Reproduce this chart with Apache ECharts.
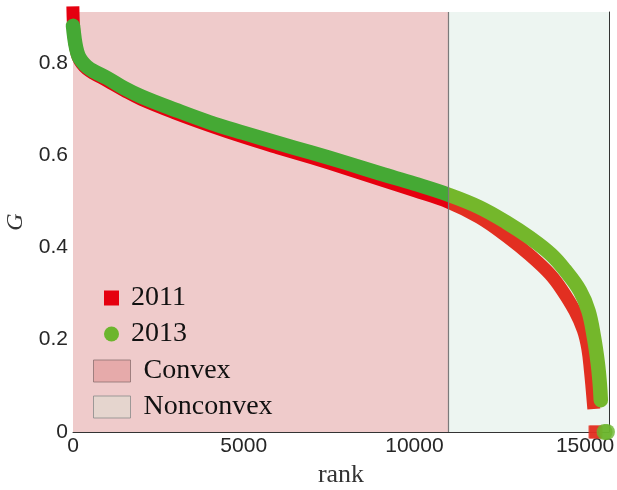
<!DOCTYPE html>
<html><head><meta charset="utf-8">
<script src="https://cdn.jsdelivr.net/npm/echarts@6/dist/echarts.min.js"></script>
<style>html,body{margin:0;padding:0;background:#fff}#c{width:617px;height:490px}</style>
</head><body><div id="c"></div>
<script>
// ---- data ----
const legendNames = ['2011', '2013', 'Convex', 'Nonconvex'];
const regionBreak = 11000;
const xMax = 15700;
const yMax = 0.91;

const rank2011 = [0, 30, 90, 160, 260, 400, 600, 1000, 1500, 2000, 3000, 4000, 5000, 6000, 7000, 8000, 9000, 10000, 11000, 11900, 12700, 13400, 13970, 14320, 14700, 14950, 15080, 15160, 15210, 15240];
const g2011 = [0.908, 0.860, 0.829, 0.811, 0.798, 0.787, 0.777, 0.761, 0.740, 0.721, 0.691, 0.664, 0.639, 0.616, 0.594, 0.571, 0.547, 0.523, 0.498, 0.465, 0.424, 0.382, 0.342, 0.308, 0.262, 0.220, 0.180, 0.130, 0.090, 0.064];

const rank2013 = [0, 40, 90, 160, 260, 400, 600, 1000, 1500, 2000, 3000, 4000, 5000, 6000, 7000, 8000, 9000, 10000, 11000, 11900, 12700, 13400, 14000, 14400, 14850, 15100, 15260, 15370, 15430, 15460];
const g2013 = [0.880, 0.855, 0.833, 0.815, 0.803, 0.792, 0.782, 0.767, 0.745, 0.727, 0.698, 0.671, 0.648, 0.626, 0.605, 0.583, 0.560, 0.538, 0.514, 0.487, 0.454, 0.420, 0.385, 0.352, 0.306, 0.262, 0.205, 0.150, 0.105, 0.069];

const zeroRank2011 = [15290, 15320];
const zeroG2011 = [0, 0];
const zeroRank2013 = [15570, 15640];
const zeroG2013 = [0, 0];

const zip = (a, b) => a.map((v, i) => [v, b[i]]);

const serif = 'Liberation Serif';
const sans = 'Liberation Sans';
const W = 617;

const red1 = '#e5000f', red2 = '#e22f21';
const green1 = '#45a934', green2 = '#74b72b';

const chart = echarts.init(document.getElementById('c'), null, {renderer: 'canvas'});

const axisCommon = {
  type: 'value',
  axisLine: {show: true, onZero: false, lineStyle: {color: '#333', width: 1}},
  axisTick: {show: true, inside: true, length: 6, lineStyle: {color: '#333'}},
  splitLine: {show: false}
};

chart.setOption({
  animation: false,
  backgroundColor: '#fff',
  grid: {left: 73, right: 8, top: 12, bottom: 58, containLabel: false, outerBoundsMode: 'none'},
  xAxis: [
    Object.assign({}, axisCommon, {
      min: 0, max: xMax, interval: 5000,
      name: 'rank', nameLocation: 'middle', nameGap: 26,
      nameTextStyle: {fontFamily: serif, fontSize: 26, color: '#333'},
      axisLabel: {fontFamily: sans, fontSize: 21, color: '#262626', margin: 4, showMaxLabel: false,
        formatter: v => String(v)}
    }),
    Object.assign({}, axisCommon, {
      position: 'top', min: 0, max: xMax, interval: 5000,
      axisLabel: {show: false}
    })
  ],
  yAxis: [
    Object.assign({}, axisCommon, {
      min: 0, max: yMax, interval: 0.2,
      name: 'G', nameLocation: 'middle', nameGap: 40, nameRotate: 90,
      nameTextStyle: {fontFamily: serif, fontStyle: 'italic', fontSize: 24, color: '#333'},
      axisLabel: {fontFamily: sans, fontSize: 21, color: '#262626', margin: 5, showMaxLabel: false,
        formatter: v => String(Math.round(v * 10) / 10)}
    }),
    Object.assign({}, axisCommon, {
      position: 'right', min: 0, max: yMax, interval: 0.2,
      axisLabel: {show: false}
    })
  ],
  legend: [
    {
      orient: 'vertical', left: 99, top: 278, itemGap: 6,
      itemWidth: 15, itemHeight: 15,
      textStyle: {fontFamily: serif, fontSize: 28, color: '#111', lineHeight: 30, padding: [0, 0, 0, 7]},
      data: [
        {name: legendNames[0], icon: 'path://M0,0H10V10H0Z', itemStyle: {color: red1}},
        {name: legendNames[1], icon: 'circle', itemStyle: {color: '#6cb52d'}}
      ],
      selectedMode: false
    },
    {
      orient: 'vertical', left: 88, top: 351, itemGap: 6,
      itemWidth: 37, itemHeight: 22,
      textStyle: {fontFamily: serif, fontSize: 28, color: '#111', lineHeight: 30, padding: [0, 0, 0, 8]},
      data: [
        {name: legendNames[2], icon: 'rect', itemStyle: {color: '#e4a1a1', borderColor: '#8c7070', borderWidth: 1}},
        {name: legendNames[3], icon: 'rect', itemStyle: {color: '#e2d7ce', borderColor: '#8a8a8a', borderWidth: 1}}
      ],
      selectedMode: false
    }
  ],
  series: [
    {
      name: legendNames[2], type: 'scatter', data: [], z: 0,
      itemStyle: {color: '#e4a1a1', borderColor: '#8c7070', borderWidth: 1},
      markArea: {silent: true, itemStyle: {color: '#efcbcb'},
        data: [[{xAxis: 0}, {xAxis: regionBreak}]]}
    },
    {
      name: legendNames[3], type: 'scatter', data: [], z: 0,
      itemStyle: {color: '#e2d7ce', borderColor: '#8a8a8a', borderWidth: 1},
      markArea: {silent: true, itemStyle: {color: '#edf5f1'},
        data: [[{xAxis: regionBreak}, {xAxis: xMax}]]}
    },
    {
      id: 'l2011', name: legendNames[0], type: 'line', data: zip(rank2011, g2011),
      showSymbol: false, smooth: 0.4, clip: false, z: 3,
      lineStyle: {width: 13, cap: 'square', join: 'round', color: red1}
    },
    {
      id: 'l2013', name: legendNames[1], type: 'line', data: zip(rank2013, g2013),
      showSymbol: false, smooth: 0.4, clip: false, z: 4,
      lineStyle: {width: 14.5, cap: 'round', join: 'round', color: green1}
    },
    {
      name: legendNames[0], type: 'scatter', data: zip(zeroRank2011, zeroG2011),
      symbol: 'rect', symbolSize: 13, clip: false, z: 5,
      itemStyle: {color: red2}
    },
    {
      name: legendNames[1], type: 'scatter', data: zip(zeroRank2013, zeroG2013),
      symbol: 'circle', symbolSize: 16, clip: false, z: 6,
      itemStyle: {color: '#6cb52d'}
    },
    {
      type: 'line', data: [], z: 7,
      markLine: {silent: true, symbol: 'none', label: {show: false},
        lineStyle: {color: '#7a7a7a', width: 1.2, type: 'solid'},
        data: [{xAxis: regionBreak}]}
    }
  ]
});

// colour the curves by region using the axis scale
const bx = chart.convertToPixel({xAxisIndex: 0}, regionBreak);
const off = Math.max(0, Math.min(1, bx / W));
const grad = (a, b) => new echarts.graphic.LinearGradient(0, 0, W, 0, [
  {offset: 0, color: a}, {offset: off, color: a}, {offset: off, color: b}, {offset: 1, color: b}
], true);
chart.setOption({
  series: [
    {id: 'l2011', lineStyle: {color: grad(red1, red2)}},
    {id: 'l2013', lineStyle: {color: grad(green1, green2)}}
  ]
});
</script>
</body></html>
